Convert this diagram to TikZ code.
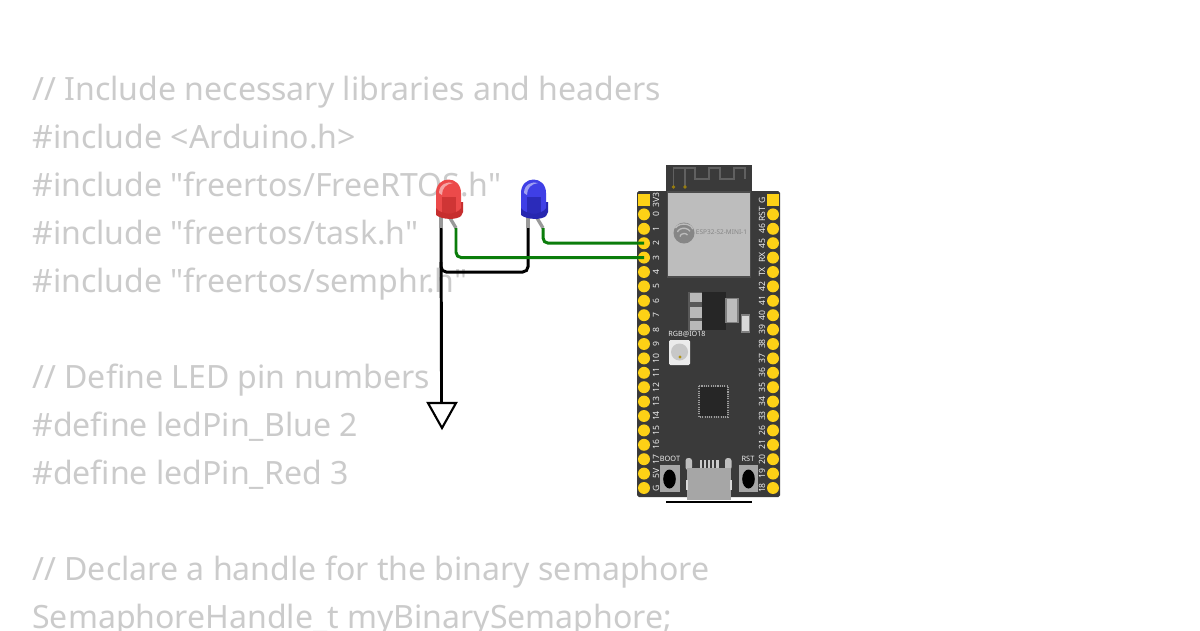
\documentclass[tikz,border=0pt]{standalone}
\usepackage{fontspec}
\setmainfont{Noto Sans}
\newfontfamily\codefont{Noto Sans}
\usepackage{color}
\definecolor{codegray}{HTML}{CBCBCB}
\definecolor{boardgray}{HTML}{3A3A3A}
\definecolor{padyellow}{HTML}{FDD116}
\definecolor{silver}{HTML}{BDBDBD}
\definecolor{tabgray}{HTML}{A6A6A6}
\definecolor{wiregreen}{HTML}{0B7D0B}
\definecolor{ledred}{HTML}{EC4A4A}
\definecolor{ledreddark}{HTML}{C62E2E}
\definecolor{ledblue}{HTML}{3F3FE6}
\definecolor{ledbluedark}{HTML}{2626B0}

\begin{document}
\begin{tikzpicture}
[x=0.02cm,y=-0.02cm,>=stealth,
code/.style={anchor=base west,inner sep=0pt,text=codegray,font=\codefont\fontsize{18.25pt}{20pt}\selectfont},
pad/.style={draw=none,circle,fill=padyellow,inner sep=0pt,minimum size=6.8pt},
padsq/.style={draw=none,rectangle,fill=padyellow,inner sep=0pt,minimum size=6.4pt},
silk/.style={inner sep=0pt,text=white!92!black,font=\fontsize{4.9pt}{5pt}\selectfont\bfseries},
wire/.style={line width=1.7pt,rounded corners=3pt},
greenwire/.style={wire,draw=wiregreen},
blackwire/.style={wire,draw=black},
leg/.style={line width=1.9pt,draw=gray!80},
trace/.style={line width=1pt,draw=gray!75!black},
]

\useasboundingbox (0,0) rectangle (1200,630);
\fill[white] (0,0) rectangle (1200,630);

% code behind the parts
\node (l1) at (32,100)[code]{// Include necessary libraries and headers};
\node (l2) at (32,148)[code]{\#include <Arduino.h>};
\node (l3) at (32,196)[code]{\#include "freertos/FreeRTOS.h"};
\node (l4) at (32,244)[code]{\#include "freertos/task.h"};
\node (l5) at (32,292)[code]{\#include "freertos/semphr.h"};
\node (l6) at (32,388)[code]{// Define LED pin numbers};
\node (l7) at (32,436)[code]{\#define ledPin\_Blue 2};
\node (l8) at (32,484)[code]{\#define ledPin\_Red 3};
\node (l9) at (32,580)[code]{// Declare a handle for the binary semaphore};
\node (l10) at (32,628)[code]{SemaphoreHandle\_t myBinarySemaphore;};

% board
\fill[boardgray] (666,165) rectangle (752,192);
\fill[boardgray,rounded corners=1pt] (637,191) rectangle (780,497);
\draw[trace] (673.5,187)--(673.5,168)--(695,168)--(695,179)--(709,179)--(709,168)--(720,168)--(720,179)--(734,179)--(734,168)--(745,168)--(745,179);
\draw[trace] (685,187)--(685,168);
\fill[padyellow!60!black] (673.5,187) circle (1.8);
\fill[padyellow!60!black] (685,187) circle (1.8);
\draw[fill=silver,draw=gray!60!black,line width=0.6pt] (667.5,192) rectangle (750.5,277);

% logo and module name
\fill[gray!95] (684,233) circle (10.5);
\draw[silver,line width=0.75pt] (675.5,228) arc (200:350:9 and 6);
\draw[silver,line width=0.75pt] (677.5,232) arc (190:340:6.5 and 4.5);
\draw[silver,line width=0.75pt] (680,236.5) arc (180:330:4 and 3);
\node (modname) at (721.5,232)[inner sep=0pt,text=gray!95,font=\fontsize{3.7pt}{5pt}\selectfont]{ESP32-S2-MINI-1};

% regulator
\fill[gray!70!black] (688,292) rectangle (702,331);
\fill[tabgray!80!white] (689.5,293) rectangle (701.5,302);
\fill[tabgray!80!white] (689.5,307) rectangle (701.5,318);
\fill[tabgray!80!white] (689.5,321) rectangle (701.5,330);
\fill[black!85] (701.5,292) rectangle (725.5,330);
\draw[fill=silver,draw=gray,line width=0.8pt] (726,298.5) rectangle (738,322.5);
\draw[fill=white!85!black,draw=gray,line width=0.6pt] (741.5,315) rectangle (749.5,332);

% rgb led
\node (rgblabel) at (687,334.5)[silk,font=\fontsize{4.1pt}{5pt}\selectfont\bfseries]{RGB@IO18};
\fill[white!92!black,rounded corners=0.8pt] (669,340) rectangle (690,365);
\fill[white!78!black] (679.5,352) circle (8.5);
\fill[padyellow!70!black] (680,357) circle (1.7);

% chip
\fill[black!85] (700,387) rectangle (727,416);
\draw[white!62!black,line width=0.6pt,dash pattern=on 0.6pt off 0.7pt] (699,386) rectangle (728,417);

% usb and buttons
\fill[white!80!black] (699.5,460) rectangle (718.5,468);
\foreach \x in {703,707,711,715}{\fill[boardgray] (\x-0.6,460) rectangle (\x+0.6,468);}
\fill[white!75!black,rounded corners=1.5pt] (685.5,458) rectangle (692,470);
\fill[white!75!black,rounded corners=1.5pt] (725,458) rectangle (731.5,470);
\fill[tabgray] (687,468) rectangle (731,500);
\fill[white!85!black] (686,480) rectangle (688,490);
\fill[white!85!black] (730,480) rectangle (732,490);
\draw[black,line width=0.7pt] (666,502)--(752,502);

\fill[tabgray] (660,465) rectangle (679.5,492);
\fill[black] (669.5,479) ellipse (6.3 and 9.5);
\fill[tabgray] (739,465) rectangle (758,492);
\fill[black] (748.5,479) ellipse (6.3 and 9.5);
\node (bootlabel) at (670,459)[silk,font=\fontsize{4.2pt}{5pt}\selectfont\bfseries]{BOOT};
\node (rstlabel) at (748,459)[silk,font=\fontsize{4.2pt}{5pt}\selectfont\bfseries]{RST};

% pins
\node (L3V3) at (644,200)[padsq]{};
\node (RG) at (773,200)[padsq]{};
\node (Lt3V3) at (656,200)[silk,rotate=90]{3V3};
\node (RtG) at (762,200)[silk,rotate=90]{G};
\foreach \n [count=\i] in {0,1,2,3,4,5,6,7,8,9,10,11,12,13,14,15,16,17,5V,G}{
\node (L\n) at (644,200+14.4*\i)[pad]{};
\node (Lt\n) at (656,200+14.4*\i)[silk,rotate=90]{\n};
}
\foreach \n [count=\i] in {RST,46,45,RX,TX,42,41,40,39,38,37,36,35,34,33,26,21,20,19,18}{
\node (R\n) at (773,200+14.4*\i)[pad]{};
\node (Rt\n) at (762,200+14.4*\i)[silk,rotate=90]{\n};
}

% leds
\coordinate (RC) at (441,228);
\coordinate (RA) at (456,228);
\coordinate (BC) at (528,228);
\coordinate (BA) at (543,228);
\coordinate (RCtop) at (441,216);
\coordinate (RAtop) at (450,218);
\coordinate (BCtop) at (528,216);
\coordinate (BAtop) at (537,218);
\draw[leg] (RCtop)--(RC);
\draw[leg] (RAtop)--(RA);
\draw[leg] (BCtop)--(BC);
\draw[leg] (BAtop)--(BA);

\fill[ledreddark] (436,206) -- (436,215) .. controls (442,220) and (457,220) .. (461,216) -- (463,212) -- (463,202) -- (461,202) -- cycle;
\fill[ledred] (436,208) -- (436,193) .. controls (436,175) and (461,175) .. (461,193) -- (461,208) .. controls (457,215) and (441,215) .. cycle;
\fill[ledreddark,opacity=0.75] (442,197) -- (456,197) -- (456,213) -- (442,213) -- cycle;
\fill[white,opacity=0.5] (439,193) .. controls (439,184) and (448,181) .. (453,183) .. controls (446,184) and (442,188) .. (442,195) -- cycle;

\fill[ledbluedark] (521,206) -- (521,215) .. controls (527,220) and (542,220) .. (546,216) -- (548,212) -- (548,202) -- (546,202) -- cycle;
\fill[ledblue] (521,208) -- (521,193) .. controls (521,175) and (546,175) .. (546,193) -- (546,208) .. controls (542,215) and (526,215) .. cycle;
\fill[ledbluedark,opacity=0.8] (527,197) -- (541,197) -- (541,213) -- (527,213) -- cycle;
\fill[white,opacity=0.5] (524,193) .. controls (524,184) and (533,181) .. (538,183) .. controls (531,184) and (527,188) .. (527,195) -- cycle;

% ground
\node (G1) at (441.5,403)[draw=none,inner sep=0pt]{};
\coordinate (G2) at (428,403);
\coordinate (G3) at (456,403);
\coordinate (G4) at (442,428);
\coordinate (GW) at (441.5,375);
\draw[line width=1.2pt,line join=miter] (G2)--(G3)--(G4)--cycle;
\draw[line width=1.2pt] (GW)--(G1.center);

% wires
\coordinate (J) at (441,272);
\coordinate (Jtop) at (441,262);
\draw[blackwire] (RC)--(GW);
\draw[blackwire] (BC)|-(J)--(Jtop);
\draw[greenwire] (RA)|-(L3.center);
\draw[greenwire] (BA)|-(L2.center);

\end{tikzpicture}
\end{document}
